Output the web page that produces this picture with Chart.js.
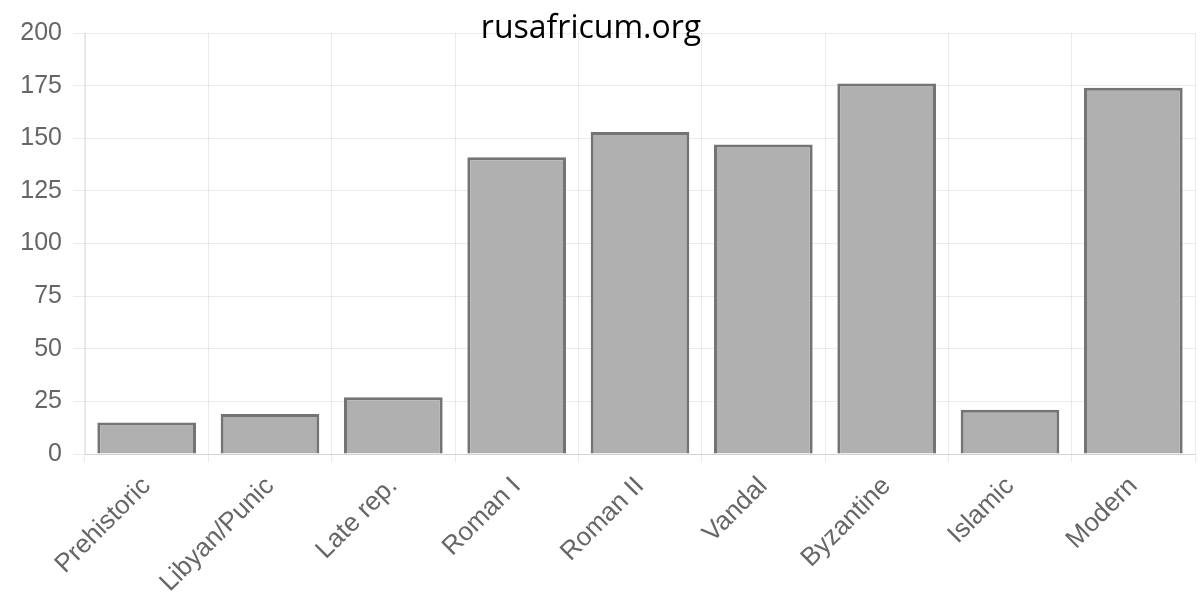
<!DOCTYPE html>
<html>
<head>
<meta charset="utf-8">
<script src="https://cdn.jsdelivr.net/npm/chart.js@4"></script>
<style>
  html, body { margin: 0; padding: 0; background: #fff; }
  .wrap { position: relative; width: 1204px; height: 596px; }
  .mark {
    position: absolute; left: 0; width: 1182px; top: 4px;
    text-align: center; font-family: 'Open Sans', sans-serif;
    font-size: 32px; color: #000;
  }
</style>
</head>
<body>
<div class="wrap">
  <canvas id="chart" width="1204" height="596"></canvas>
  <div class="mark">rusafricum.org</div>
</div>
<script>
// data
const periods = ['Prehistoric', 'Libyan/Punic', 'Late rep.', 'Roman I', 'Roman II', 'Vandal', 'Byzantine', 'Islamic', 'Modern'];
const siteCounts = [15, 19, 27, 141, 153, 147, 176, 21, 174];
const yTicks = [0, 25, 50, 75, 100, 125, 150, 175, 200];

const ctx = document.getElementById('chart').getContext('2d');

new Chart(ctx, {
  type: 'bar',
  data: {
    labels: periods,
    datasets: [
      {
        label: 'Sites',
        data: siteCounts,
        backgroundColor: '#b0b0b0',
        borderColor: '#747474',
        borderWidth: 3,
        barPercentage: 1,
        categoryPercentage: 0.8
      }
    ]
  },
  options: {
    responsive: false,
    animation: false,
    devicePixelRatio: 1,
    layout: { padding: { left: 0, right: 9, top: 33, bottom: 0 } },
    plugins: {
      legend: { display: false },
      tooltip: { enabled: false }
    },
    scales: {
      x: {
        afterFit: (axis) => { axis.height = 142; },
        grid: { color: 'rgba(0,0,0,0.08)', tickLength: 8 },
        border: { color: 'rgba(0,0,0,0.1)' },
        ticks: {
          color: '#666',
          font: { family: 'Liberation Sans', size: 26 },
          minRotation: 45,
          maxRotation: 45,
          padding: 9
        }
      },
      y: {
        min: 0,
        max: 200,
        afterFit: (axis) => { axis.width = 85; },
        afterBuildTicks: (axis) => {
          axis.ticks = yTicks.map((v) => ({ value: v }));
        },
        grid: { color: 'rgba(0,0,0,0.08)', tickLength: 12 },
        border: { color: 'rgba(0,0,0,0.1)' },
        ticks: {
          color: '#666',
          font: { family: 'Liberation Sans', size: 25 },
          padding: 11
        }
      }
    }
  }
});
</script>
</body>
</html>
